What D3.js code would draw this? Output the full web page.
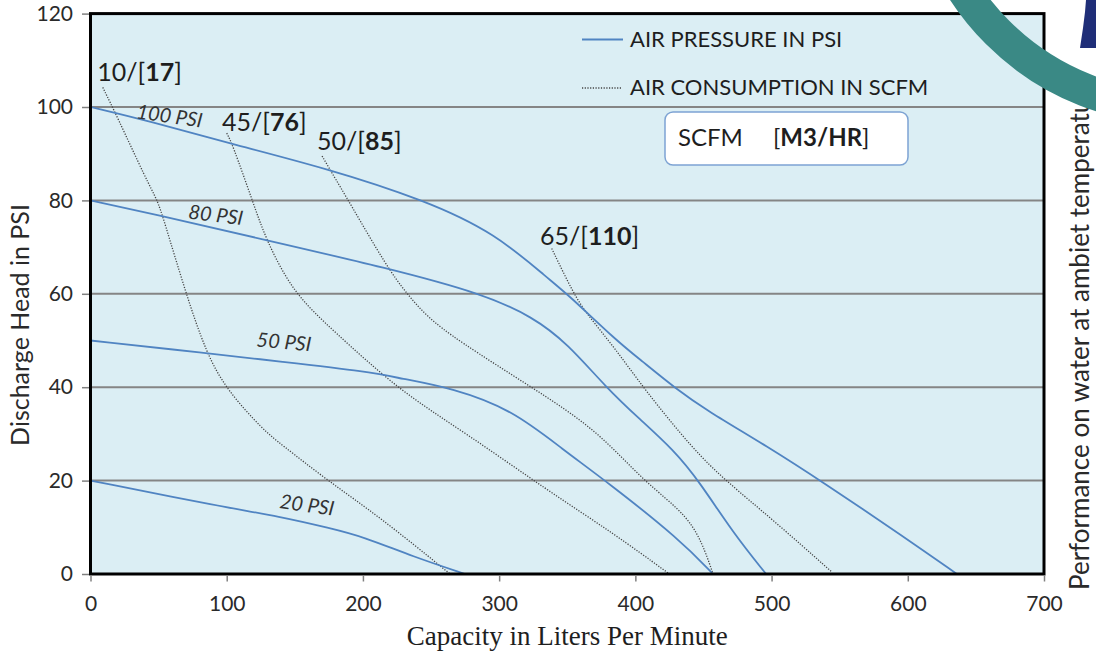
<!DOCTYPE html>
<html>
<head>
<meta charset="utf-8">
<script src="https://cdnjs.cloudflare.com/ajax/libs/d3/7.8.5/d3.min.js"></script>
<style>
    body { margin: 0; background: #fff; }
    svg { display: block; }
</style>
</head>
<body>
<svg id="chart" width="1096" height="653"></svg>
<script>
const xTicks = [0, 100, 200, 300, 400, 500, 600, 700]
const yTicks = [0, 20, 40, 60, 80, 100, 120]

// air pressure curves (capacity l/min, head psi)
const psiNames = ["100 PSI", "80 PSI", "50 PSI", "20 PSI"]
const psi100 = [[0, 100], [44, 96.9], [102, 92.2], [173, 86.9], [245, 80.1], [297, 73], [337, 63], [350, 60],
    [386, 50], [404, 45.8], [430, 39.6], [452, 35.1], [497, 27.3], [537, 19.8], [599, 7.6], [636, 0]]
const psi80 = [[0, 80], [44, 77.2], [129, 71.5], [218, 65.5], [288, 60], [325, 55], [350, 49.4], [379, 39.8],
    [403, 33.2], [428, 26.6], [447, 19.8], [472, 8.7], [496, 0]]
const psi50 = [[0, 50], [85, 47.3], [139, 45.5], [205, 43.3], [227, 41.9], [266, 39.8], [310, 35.1], [347, 26.6],
    [379, 19.8], [433, 7.3], [457, 0]]
const psi20 = [[0, 20], [97, 14.4], [139, 12.3], [176, 9.8], [200, 8], [237, 3.7], [275, 0]]

// air consumption curves, scfm / [m3/hr]
const scfmNames = [["10", "17"], ["45", "76"], ["50", "85"], ["65", "110"]]
const scfm10 = [[9, 104.2], [19, 98.3], [41, 84.4], [49, 80.1], [53.5, 76.2], [70, 60.1], [85, 47.3], [100, 39.4],
    [127, 30.8], [139, 28], [175, 19.8], [212, 12.3], [264, 0]]
const scfm45 = [[100, 94.4], [104, 92.2], [119.5, 79.4], [129, 71.5], [149, 60.1], [178, 52.2], [226, 39.4],
    [276, 30.1], [335, 18], [384, 8.7], [425, 0]]
const scfm50 = [[170, 89.5], [176, 86.5], [190.5, 79.4], [217.5, 65.8], [232, 60.1], [247, 55.1], [269, 50.1],
    [325, 39.8], [372, 30.8], [406, 19.8], [440, 12.3], [452, 4.4], [457, 0]]
const scfm65 = [[338.6, 69.7], [354.5, 60.1], [364, 55.8], [386, 48], [406, 39.8], [442.6, 26.6], [467, 19.8],
    [501, 11.6], [544, 0.5]]

const psiLabelAt = [[58, 98.1], [92, 76.9], [142, 49.7], [159, 14.8]]
const psiLabelRot = [8, 7, 5, 8]
const scfmLabelAt = [[4.9, 105.6], [96.5, 94.9], [166.3, 90.8], [330, 70.4]]

const W = 1096, H = 653
const font = "Lato, 'Open Sans', sans-serif"

const svg = d3.select("#chart")

const x = d3.scaleLinear().domain([0, 700]).range([90.5, 1044])
const y = d3.scaleLinear().domain([0, 120]).range([574, 13.6])

svg.append("rect").attr("width", W).attr("height", H).attr("fill", "#fff")

svg.append("rect")
    .attr("x", x(0)).attr("y", y(120))
    .attr("width", x(700) - x(0)).attr("height", y(0) - y(120))
    .attr("fill", "#dbeef4")

svg.append("g").selectAll("line")
    .data(yTicks.filter(d => d > 0 && d < 120))
    .join("line")
    .attr("x1", x(0)).attr("x2", x(700))
    .attr("y1", d => y(d)).attr("y2", d => y(d))
    .attr("stroke", "#858585")
    .attr("stroke-width", 2)

const line = d3.line()
    .x(d => x(d[0]))
    .y(d => y(d[1]))
    .curve(d3.curveBasis)

const scfmSeries = [scfm10, scfm45, scfm50, scfm65]
const psiSeries = [psi100, psi80, psi50, psi20]

svg.append("g").selectAll("path")
    .data(scfmSeries)
    .join("path")
    .attr("d", line)
    .attr("fill", "none")
    .attr("stroke", "#444")
    .attr("stroke-width", 1.3)
    .attr("stroke-dasharray", "1.2,1.5")

svg.append("g").selectAll("path")
    .data(psiSeries)
    .join("path")
    .attr("d", line)
    .attr("fill", "none")
    .attr("stroke", "#5084c2")
    .attr("stroke-width", 1.8)

// frame
svg.append("rect")
    .attr("x", x(0)).attr("y", y(120))
    .attr("width", x(700) - x(0)).attr("height", y(0) - y(120))
    .attr("fill", "none")
    .attr("stroke", "#000")
    .attr("stroke-width", 3)

const gy = svg.append("g")
    .attr("transform", "translate(" + (x(0) - 1.5) + ",0)")
    .call(d3.axisLeft(y).tickValues(yTicks).tickSize(7).tickPadding(9))
gy.select(".domain").remove()
gy.selectAll("line").attr("stroke", "#808080").attr("stroke-width", 1.5)
gy.selectAll("text").attr("font-family", font).attr("font-size", 21).attr("fill", "#2a2a2a")

const gx = svg.append("g")
    .attr("transform", "translate(0," + (y(0) + 1.5) + ")")
    .call(d3.axisBottom(x).tickValues(xTicks).tickSize(6).tickPadding(15))
gx.select(".domain").remove()
gx.selectAll("line").attr("stroke", "#808080").attr("stroke-width", 1.5)
gx.selectAll("text").attr("font-family", font).attr("font-size", 21).attr("fill", "#2a2a2a")

// curve labels
svg.append("g").selectAll("text")
    .data(psiNames)
    .join("text")
    .attr("transform", (d, i) => "translate(" + x(psiLabelAt[i][0]) + "," + y(psiLabelAt[i][1]) + ") rotate(" + psiLabelRot[i] + ")")
    .attr("text-anchor", "middle")
    .attr("dy", "0.35em")
    .attr("font-family", font)
    .attr("font-style", "italic")
    .attr("font-size", 20)
    .attr("fill", "#333")
    .text(d => d)

const sl = svg.append("g").selectAll("text")
    .data(scfmNames)
    .join("text")
    .attr("x", (d, i) => x(scfmLabelAt[i][0]))
    .attr("y", (d, i) => y(scfmLabelAt[i][1]))
    .attr("font-family", font)
    .attr("font-size", 25)
    .attr("fill", "#1e1e1e")
sl.append("tspan").text(d => d[0] + "/[")
sl.append("tspan").attr("font-weight", "bold").text(d => d[1])
sl.append("tspan").text("]")

// legend
const lg = svg.append("g")
lg.append("line")
    .attr("x1", 582).attr("x2", 623).attr("y1", 39.5).attr("y2", 39.5)
    .attr("stroke", "#5084c2").attr("stroke-width", 1.8)
lg.append("text")
    .attr("x", 630).attr("y", 47)
    .attr("font-family", font).attr("font-size", 22).attr("fill", "#1e1e1e")
    .text("AIR PRESSURE IN PSI")
lg.append("line")
    .attr("x1", 582).attr("x2", 621).attr("y1", 88).attr("y2", 88)
    .attr("stroke", "#444").attr("stroke-width", 1.3).attr("stroke-dasharray", "1.2,1.5")
lg.append("text")
    .attr("x", 630).attr("y", 95)
    .attr("font-family", font).attr("font-size", 22).attr("fill", "#1e1e1e")
    .text("AIR CONSUMPTION IN SCFM")

lg.append("rect")
    .attr("x", 665).attr("y", 112).attr("width", 243).attr("height", 53).attr("rx", 8)
    .attr("fill", "#fff").attr("stroke", "#7da3d3").attr("stroke-width", 1.5)
const unit = lg.append("text")
    .attr("y", 146)
    .attr("font-family", font).attr("font-size", 24).attr("fill", "#1e1e1e")
unit.append("tspan").attr("x", 678).text("SCFM")
unit.append("tspan").attr("x", 773).text("[")
unit.append("tspan").attr("font-weight", "bold").text("M3/HR")
unit.append("tspan").text("]")

// axis titles
svg.append("text")
    .attr("x", (x(0) + x(700)) / 2).attr("y", 645)
    .attr("text-anchor", "middle")
    .attr("font-family", "'Liberation Serif', serif").attr("font-size", 27).attr("fill", "#1e1e1e")
    .text("Capacity in Liters Per Minute")

svg.append("text")
    .attr("transform", "translate(29,325) rotate(-90)")
    .attr("text-anchor", "middle")
    .attr("font-family", font).attr("font-size", 25).attr("fill", "#2a2a2a")
    .text("Discharge Head in PSI")

// side note runs under the logo ring
svg.append("clipPath").attr("id", "sideClip")
    .append("rect").attr("x", 1050).attr("y", 100).attr("width", 46).attr("height", 553)
svg.append("g")
    .attr("clip-path", "url(#sideClip)")
    .append("text")
    .attr("transform", "translate(1089,590) rotate(-90)")
    .attr("font-family", font).attr("font-size", 26).attr("fill", "#2a2a2a")
    .text("Performance on water at ambiet temperature")

// logo corner
svg.append("circle")
    .attr("cx", 1180).attr("cy", -150).attr("r", 258)
    .attr("fill", "none").attr("stroke", "#3a8985").attr("stroke-width", 33)
svg.append("path")
    .attr("d", "M1086,0 L1096,0 L1096,48 L1080,48 L1083,28 L1085,12 Z")
    .attr("fill", "#1f2e78")
</script>
</body>
</html>
